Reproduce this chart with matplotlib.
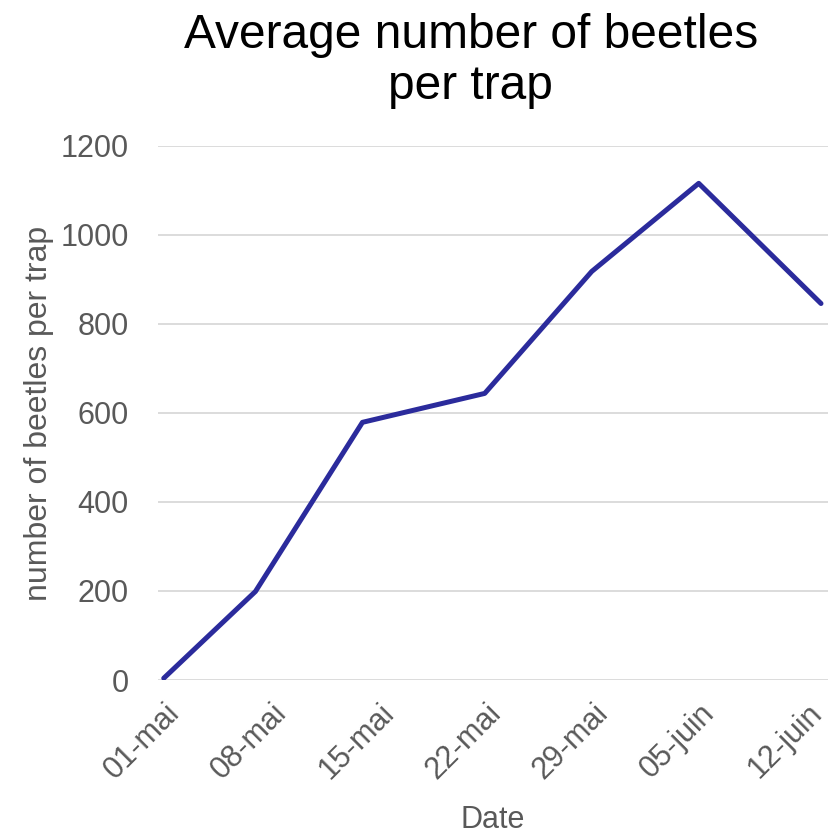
import matplotlib.pyplot as plt
from matplotlib.transforms import ScaledTranslation
import numpy as np

# trap counts by sampling date
sample_dates = np.array(["2019-05-01", "2019-05-07", "2019-05-14", "2019-05-22",
                         "2019-05-29", "2019-06-05", "2019-06-13"], dtype="datetime64[D]")
beetles = [4, 199, 579, 644, 918, 1116, 846]

# weekly axis ticks
tick_dates = np.array(["2019-05-01", "2019-05-08", "2019-05-15", "2019-05-22",
                       "2019-05-29", "2019-06-05", "2019-06-12"], dtype="datetime64[D]")
tick_labels = ["01-mai", "08-mai", "15-mai", "22-mai", "29-mai", "05-juin", "12-juin"]
y_ticks = [0, 200, 400, 600, 800, 1000, 1200]

plt.rcParams['font.family'] = ['Liberation Sans', 'DejaVu Sans']
grey = "#595959"

fig = plt.figure(figsize=(8.33, 8.36), dpi=100)
ax = fig.add_axes([0.1897, 0.1866, 0.8043, 0.6388])

ax.plot(sample_dates, beetles, color="#2B2B9C", linewidth=3.6, solid_capstyle="round",
        solid_joinstyle="round", zorder=3)

ax.set_ylim(0, 1200)
ax.set_xlim(sample_dates[0] - np.timedelta64(9, "h"), sample_dates[-1] + np.timedelta64(11, "h"))
ax.set_yticks(y_ticks)
ax.set_xticks(tick_dates)
ax.set_xticklabels(tick_labels, rotation=45, ha="right", va="top", rotation_mode="anchor")
ax.tick_params(axis="both", length=0, labelsize=22, labelcolor=grey)
ax.tick_params(axis="y", pad=21)
ax.tick_params(axis="x", pad=13)
# slanted labels end a touch right of their tick
shift = ScaledTranslation(0.01, 0, fig.dpi_scale_trans)
for lab in ax.get_xticklabels():
    lab.set_transform(lab.get_transform() + shift)

ax.grid(axis="y", color="#D9D9D9", linewidth=1.3)
ax.set_axisbelow(True)
for s in ax.spines.values():
    s.set_visible(False)

ax.set_ylabel("number of beetles per trap", fontsize=23, color=grey, labelpad=5)
ax.set_xlabel("Date", fontsize=22, color=grey, labelpad=14)
fig.text(0.565, 1 - 13 / 836, "Average number of beetles\nper trap", fontsize=34.5,
         color="black", ha="center", va="top", linespacing=1.16)

fig.savefig("out.png", dpi=100)
